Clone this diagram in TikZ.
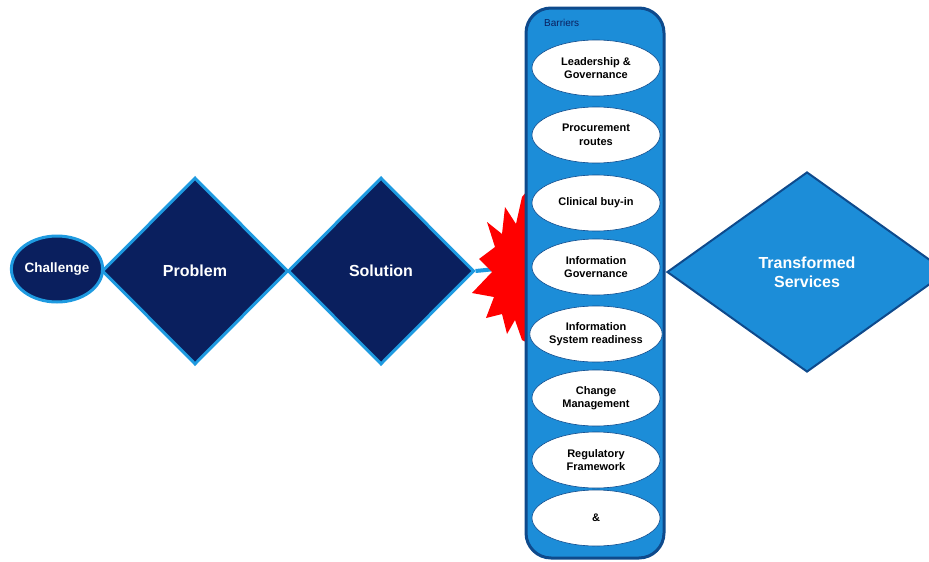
\documentclass[tikz,border=0pt]{standalone}
\usepackage{fontspec}
\setmainfont{Liberation Sans}
\usetikzlibrary{shapes.geometric}
\definecolor{navy}{HTML}{0A1F5E}
\definecolor{lightblue}{HTML}{1E9AE0}
\definecolor{boxfill}{HTML}{1C8DD8}
\definecolor{boxborder}{HTML}{0E4A8C}
\begin{document}
\begin{tikzpicture}[x=1pt,y=-1pt,
  darkdiamond/.style={diamond, draw=lightblue, fill=navy, line width=3pt, inner sep=0pt,
    text=white, font=\fontsize{16}{18}\selectfont\bfseries},
  barrier/.style={ellipse, draw=boxborder, line width=0.6pt, fill=white, minimum width=128pt,
    minimum height=56pt, inner sep=0pt, align=center, text=black,
    font=\fontsize{11}{13.5}\selectfont\bfseries},
]
\useasboundingbox (0,0) rectangle (929,562);
% connector behind the star
\node[darkdiamond, minimum width=186pt, minimum height=187pt] (sol) at (381,271) {Solution};
\coordinate (starin) at (496,269);
\draw[lightblue, line width=4pt] (sol.east) -- (starin);
% red starburst (left half visible)
\fill[red] (532,185) -- (522,197) -- (516,224) -- (505,207) -- (502,234) -- (487,222)
  -- (495,247) -- (479,259) -- (492,272) -- (472,293) -- (494,297) -- (486,318)
  -- (502,314) -- (507,334) -- (515,320) -- (522,340) -- (532,345) -- cycle;
% other left nodes
\node[ellipse, draw=lightblue, fill=navy, line width=3pt, minimum width=85pt, minimum height=66pt,
  inner sep=0pt, text=white, font=\fontsize{13.5}{16}\selectfont\bfseries] (chal) at (57,269) {Challenge};
\node[darkdiamond, minimum width=186pt, minimum height=187pt] (prob) at (195,271) {Problem};
% barriers box
\node[draw=boxborder, fill=boxfill, line width=3pt, rounded corners=25pt,
  minimum width=138pt, minimum height=550pt, inner sep=0pt] (box) at (595,283) {};
\node[anchor=west, text=navy, font=\fontsize{10}{12}\selectfont, inner sep=0pt] (blabel) at (544,23) {Barriers};
\node[barrier] (b1) at (596,68) {Leadership \&\\Governance};
\node[barrier] (b2) at (596,135) {Procurement\\routes};
\node[barrier] (b3) at (596,203) {Clinical buy-in};
\node[barrier] (b4) at (596,267) {Information\\Governance};
\node[barrier] (b5) at (596,334) {Information\\System readiness};
\node[barrier] (b6) at (596,398) {Change\\Management};
\node[barrier] (b7) at (596,460) {Regulatory\\Framework};
\node[barrier] (b8) at (596,518) {\&};
% transformed services
\node[diamond, draw=boxborder, fill=boxfill, line width=2pt, inner sep=0pt,
  minimum width=280pt, minimum height=200pt, align=center, text=white,
  font=\fontsize{16}{19}\selectfont\bfseries] (ts) at (807,272) {Transformed\\Services};
\end{tikzpicture}
\end{document}
